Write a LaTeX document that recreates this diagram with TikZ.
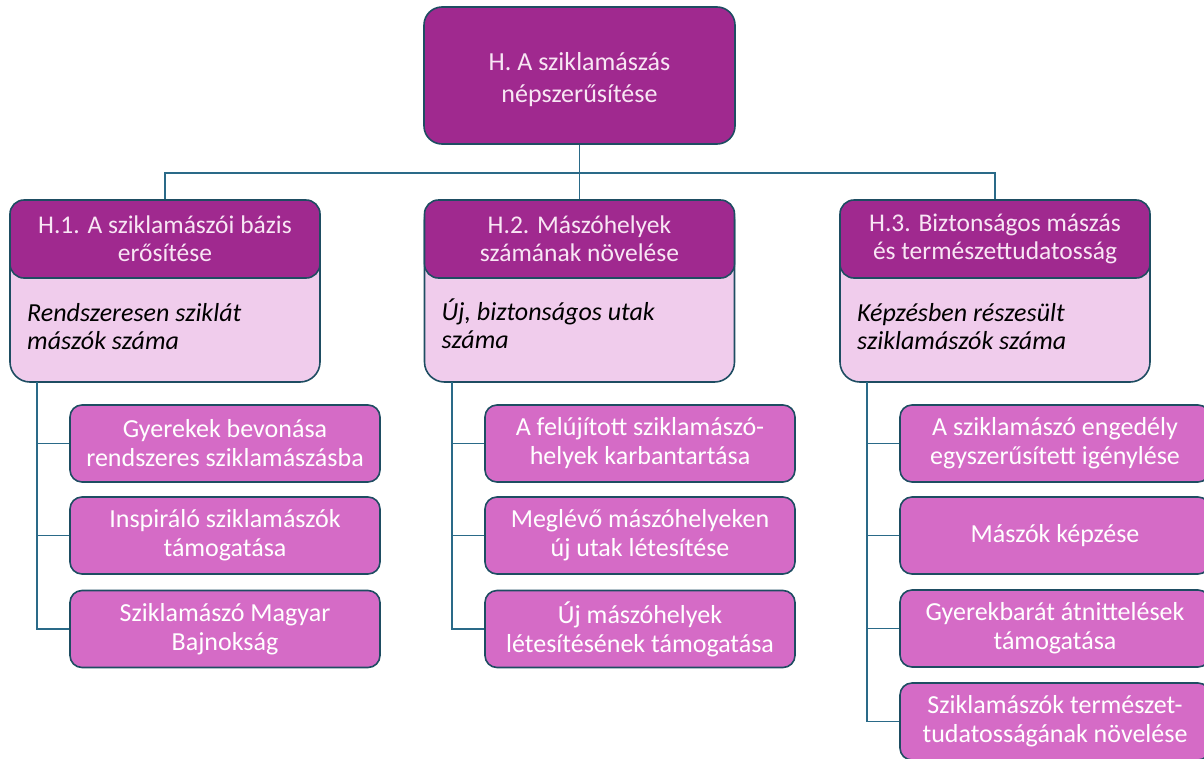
\documentclass[tikz,border=0pt]{standalone}
\usepackage{fontspec}
\setmainfont{Carlito}
\definecolor{plum}{HTML}{A0298F}
\definecolor{orchid}{HTML}{D56BC6}
\definecolor{blush}{HTML}{F0CCEC}
\definecolor{edgeline}{HTML}{1E4D62}
\definecolor{wireline}{HTML}{2A6A88}
\definecolor{paletext}{HTML}{F8E6F4}
\begin{document}
\begin{tikzpicture}[x=1pt,y=-1pt,
  box/.style={draw=edgeline, line width=1.6pt, rounded corners=12pt, inner sep=0pt,
    align=center, font=\fontsize{26}{29}\selectfont},
  root/.style={box, fill=plum, minimum width=311pt, minimum height=137pt, rounded corners=18pt},
  roottitle/.style={inner sep=0pt, align=center, text=paletext, font=\fontsize{26}{32}\selectfont},
  goalbody/.style={box, fill=blush, minimum width=310pt, minimum height=182pt, rounded corners=20pt},
  goalhead/.style={box, fill=plum, text=paletext, minimum width=310pt, minimum height=78pt,
    rounded corners=14pt, font=\fontsize{25.5}{28}\selectfont},
  measure/.style={anchor=north west, align=left, inner sep=0pt,
    font=\fontsize{26}{28}\selectfont\itshape},
  task/.style={box, fill=orchid, text=white, minimum width=310pt, minimum height=77pt},
  wire/.style={draw=wireline, line width=1.6pt},
]
\useasboundingbox (0,0) rectangle (1204,758);
\clip (0,0) rectangle (1204,758);

% top goal
\node[root] (root) at (579.5,75.5) {};
\node[roottitle, yshift=-4pt] (roottext) at (root.center) {H. A sziklamászás\\népszerűsítése};

% three sub-goals: light body with indicator, dark title bar on top
\node[goalbody] (b1) at (165,291) {};
\node[goalhead] (h1) at (165,239) {H.1. A sziklamászói bázis\\erősítése};
\node[measure] (m1) at (27,303) {Rendszeresen sziklát\\mászók száma};

\node[goalbody] (b2) at (579.5,291) {};
\node[goalhead] (h2) at (579.5,239) {H.2. Mászóhelyek\\számának növelése};
\node[measure] (m2) at (441.5,299) {Új, biztonságos utak\\száma};

\node[goalbody] (b3) at (995,291) {};
\node[goalhead] (h3) at (995,239) {H.3. Biztonságos mászás\\és természettudatosság};
\node[measure] (m3) at (857,303) {Képzésben részesült\\sziklamászók száma};

% measures under H.1
\node[task] (t11) at (225,443.5) {Gyerekek bevonása\\rendszeres sziklamászásba};
\node[task] (t12) at (225,535.5) {Inspiráló sziklamászók\\támogatása};
\node[task] (t13) at (225,629) {Sziklamászó Magyar\\Bajnokság};

% measures under H.2
\node[task] (t21) at (640,443.5) {A felújított sziklamászó-\\helyek karbantartása};
\node[task] (t22) at (640,535.5) {Meglévő mászóhelyeken\\új utak létesítése};
\node[task] (t23) at (640,629) {Új mászóhelyek\\létesítésének támogatása};

% measures under H.3
\node[task] (t31) at (1055,443.5) {A sziklamászó engedély\\egyszerűsített igénylése};
\node[task] (t32) at (1055,535.5) {Mászók képzése};
\node[task] (t33) at (1055,628.5) {Gyerekbarát átnittelések\\támogatása};
\node[task] (t34) at (1055,721.5) {Sziklamászók természet-\\tudatosságának növelése};

% tree connectors
\coordinate (hub) at (579.5,173);
\draw[wire] (root.south) -- (hub);
\draw[wire] (hub) -| (h1.north);
\draw[wire] (hub) -- (h2.north);
\draw[wire] (hub) -| (h3.north);

\coordinate (s1) at (37,382);
\coordinate (s2) at (452,382);
\coordinate (s3) at (867,382);
\foreach \t in {t11,t12,t13} \draw[wire] (s1) |- (\t.west);
\foreach \t in {t21,t22,t23} \draw[wire] (s2) |- (\t.west);
\foreach \t in {t31,t32,t33,t34} \draw[wire] (s3) |- (\t.west);
\end{tikzpicture}
\end{document}
